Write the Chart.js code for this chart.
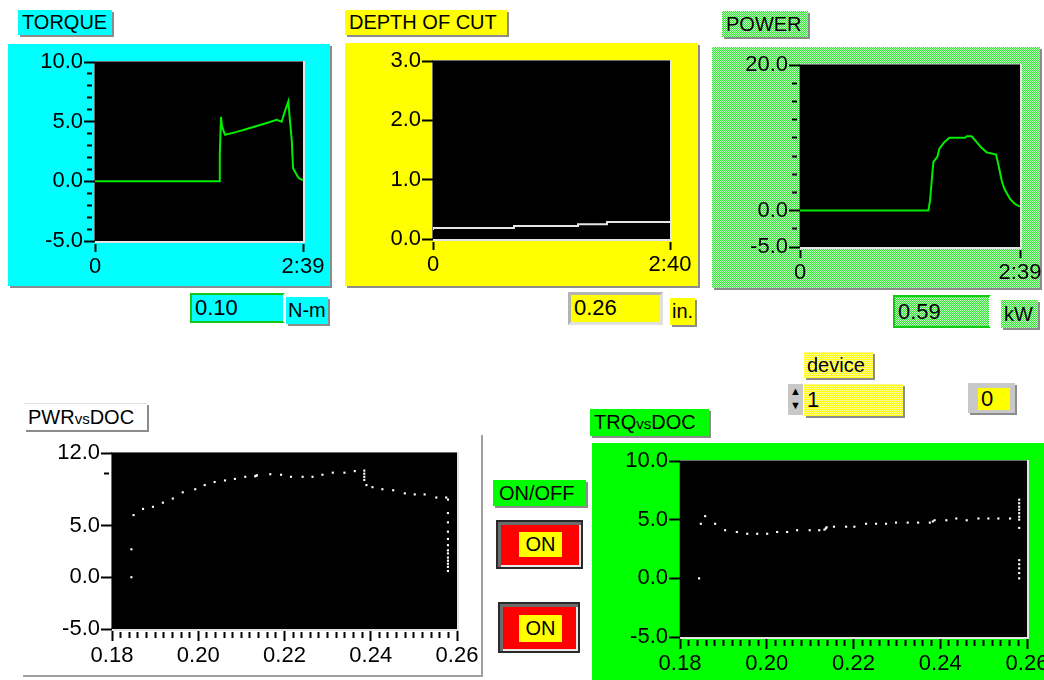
<!DOCTYPE html>
<html>
<head>
<meta charset="utf-8">
<script src="https://cdn.jsdelivr.net/npm/chart.js@4.4.1/dist/chart.umd.min.js"></script>
<style>
html, body { margin: 0; padding: 0; overflow: hidden; }
body { width: 1044px; height: 680px; position: relative; background: #fff; font-family: "Liberation Sans", Arial, sans-serif; color: #000; }
.abs { position: absolute; box-sizing: border-box; }
.lbl { position: absolute; box-sizing: border-box; font-size: 20px; padding-left: 4px; white-space: nowrap; box-shadow: 2px 2px 0 #8c8c8c; }
.num { font-size: 22px; }
.cyan { background: #00ffff; }
.yellow { background: #ffff00; }
.green { background: #00ff00; }
.gdot { background-color: #7ff07f; background-image: repeating-conic-gradient(#2ee82e 0 25%, #c6fac6 0 50%); background-size: 2px 2px; }
.ydot { background-color: #ffff60; background-image: repeating-conic-gradient(#ffff00 0 25%, #ffffa0 0 50%); background-size: 2px 2px; }
canvas { position: absolute; }
.btn { position: absolute; box-sizing: border-box; border: 2px solid #2a2a2a; background: #ff0000;
       box-shadow: inset 3px 3px 0 #6c6c6c, inset -2px -2px 0 #e8e8e8; }
.onbox { position: absolute; box-sizing: border-box; background: #ffff00; font-size: 20px; text-align: center; }
</style>
</head>
<body>

<!-- top row panels -->
<div class="abs cyan" style="left:8px;top:44px;width:322px;height:242px;box-shadow:2px 2px 0 #8c8c8c"></div>
<div class="abs yellow" style="left:345px;top:43px;width:353px;height:243px;box-shadow:2px 2px 0 #8c8c8c"></div>
<div class="abs gdot" style="left:712px;top:47px;width:328px;height:241px;box-shadow:2px 2px 0 #8c8c8c"></div>

<div class="lbl cyan" style="left:18px;top:10px;width:94px;height:25px;line-height:25px">TORQUE</div>
<div class="lbl yellow" style="left:345px;top:10px;width:162px;height:25px;line-height:25px">DEPTH OF CUT</div>
<div class="lbl gdot" style="left:722px;top:11px;width:86px;height:26px;line-height:26px">POWER</div>

<!-- readouts -->
<div class="abs cyan num" style="left:190px;top:293px;width:95px;height:30px;line-height:26px;padding-left:3px;border:2px solid #14c814;border-right-color:#fff">0.10</div>
<div class="lbl cyan" style="left:286px;top:297px;width:42px;height:27px;line-height:27px;padding-left:2px">N-m</div>
<div class="abs yellow num" style="left:568px;top:292px;width:95px;height:33px;line-height:25px;padding-left:3px;border:3px solid #b4b4b4;border-right-color:#e0e0e0;border-bottom-color:#e0e0e0">0.26</div>
<div class="lbl yellow" style="left:670px;top:298px;width:25px;height:27px;line-height:27px;padding-left:2px">in.</div>
<div class="abs gdot num" style="left:893px;top:295px;width:98px;height:33px;line-height:29px;padding-left:3px;border:2px solid #14c814;border-right-color:#fff">0.59</div>
<div class="lbl gdot" style="left:1001px;top:300px;width:37px;height:28px;line-height:28px;padding-left:3px">kW</div>

<!-- device control -->
<div class="lbl ydot" style="left:804px;top:352px;width:69px;height:26px;line-height:26px;padding-left:3px">device</div>
<div class="abs" style="left:788px;top:384px;width:15px;height:31px;background:#c8c8c8;font-size:11px;line-height:14px;text-align:center">&#9650;<br>&#9660;</div>
<div class="abs ydot num" style="left:804px;top:384px;width:99px;height:32px;line-height:32px;padding-left:3px;box-shadow:2px 2px 0 #8c8c8c">1</div>
<div class="abs" style="left:968px;top:383px;width:47px;height:30px;background:#c8c8c8;box-shadow:2px 2px 0 #8c8c8c"></div>
<div class="abs yellow num" style="left:978px;top:388px;width:32px;height:22px;line-height:22px;padding-left:3px">0</div>

<!-- lower panels -->
<div class="abs" style="left:23px;top:435px;width:460px;height:242px;border-right:2px solid #a0a0a0;border-bottom:2px solid #a0a0a0"></div>
<div class="lbl" style="left:24px;top:403px;width:123px;height:27px;line-height:27px;background:#fff;border-top:1px solid #e0e0e0">PWR<span style="font-size:15px">vs</span>DOC</div>
<div class="abs green" style="left:592px;top:443px;width:460px;height:240px"></div>
<div class="lbl green" style="left:590px;top:409px;width:119px;height:27px;line-height:27px">TRQ<span style="font-size:15px">vs</span>DOC</div>

<div class="lbl green" style="left:493px;top:480px;width:93px;height:26px;line-height:26px;padding-left:6px">ON/OFF</div>
<div class="btn" style="left:496px;top:520px;width:87px;height:49px"></div>
<div class="onbox" style="left:519px;top:532px;width:43px;height:25px;line-height:25px">ON</div>
<div class="btn" style="left:498px;top:602px;width:82px;height:51px"></div>
<div class="onbox" style="left:519px;top:615px;width:43px;height:27px;line-height:27px">ON</div>

<canvas id="torqueChart"></canvas>
<canvas id="docChart"></canvas>
<canvas id="powerChart"></canvas>
<canvas id="pwrDocChart"></canvas>
<canvas id="trqDocChart"></canvas>

<script>
// ---- data ----
// TORQUE (N-m) against elapsed time (s)
const torqueTime = [0, 95.0, 95.4, 96.3, 97.1, 99.4, 107, 114.7, 122.3, 130, 138.9, 142.7, 144.5, 147.8, 149, 150.4, 151.4, 152.9, 155.2, 156.7, 159];
const torqueVal  = [0, 0, 2.2, 5.4, 4.6, 3.9, 4.1, 4.35, 4.6, 4.85, 5.15, 5.0, 5.65, 6.7, 5.1, 3.45, 1.1, 0.8, 0.35, 0.2, 0.1];

// DEPTH OF CUT (in.) against elapsed time (s)
const docTime = [0, 54.7, 97.9, 117.5, 138.4, 160];
const docVal  = [0.15, 0.185, 0.22, 0.25, 0.285, 0.285];

// POWER (kW) against elapsed time (s)
const powerTime = [0, 92.8, 94, 95.2, 96.4, 99.3, 100.7, 104.3, 107.9, 119.3, 120.5, 124, 127.7, 130.8, 134.9, 141.7, 143.3, 145.8, 147.7, 151.8, 155.4, 159];
const powerVal  = [0, 0, 1.4, 4.1, 6.7, 7.4, 8.5, 9.4, 10.0, 10.0, 10.2, 10.2, 9.4, 8.7, 8.0, 7.7, 6.4, 4.1, 3.0, 1.6, 0.9, 0.55];

// PWRvsDOC scatter
const pwrDocX = [0.1845, 0.1845, 0.185, 0.1872, 0.1895, 0.1918, 0.1941, 0.1964, 0.1993, 0.2015, 0.2038, 0.2062, 0.2085, 0.2109,
  0.2132, 0.2134, 0.2136, 0.2167, 0.2192, 0.2215, 0.2242, 0.2265, 0.2288, 0.2312, 0.2339, 0.2363,
  0.2385, 0.2385, 0.2385, 0.2385, 0.239, 0.2404, 0.2427, 0.2452, 0.2479, 0.2502, 0.2525, 0.2552, 0.2575,
  0.2579, 0.2579, 0.2579, 0.2579, 0.2579, 0.2579, 0.2579, 0.2579, 0.2579, 0.2579, 0.2579, 0.2579, 0.2579];
const pwrDocY = [0, 2.7, 6.0, 6.6, 6.8, 7.2, 7.6, 8.2, 8.5, 8.9, 9.2, 9.35, 9.5, 9.7,
  9.75, 9.8, 9.85, 9.95, 9.9, 9.7, 9.7, 9.7, 9.9, 10.1, 10.1, 10.25,
  10.3, 10.0, 9.7, 9.4, 8.9, 8.7, 8.5, 8.4, 8.1, 8.0, 8.0, 7.7, 7.7,
  7.5, 6.2, 5.3, 4.4, 3.7, 3.1, 2.6, 2.3, 1.9, 1.6, 1.3, 1.0, 0.6];

// TRQvsDOC scatter
const trqDocX = [0.1844, 0.1848, 0.1858, 0.1881, 0.1904, 0.1931, 0.1955, 0.1978, 0.2001, 0.2024, 0.2047, 0.2070, 0.2099, 0.2121,
  0.2133, 0.2136, 0.2138, 0.2155, 0.2183, 0.2202, 0.2229, 0.2252, 0.2275, 0.2298, 0.2325, 0.2349, 0.2376,
  0.2383, 0.2387, 0.2414, 0.2437, 0.2461, 0.2488, 0.2511, 0.2534, 0.2561,
  0.2582, 0.2582, 0.2582, 0.2582, 0.2582, 0.2582, 0.2582, 0.2582, 0.2582, 0.2582, 0.2582, 0.2582, 0.2582];
const trqDocY = [0, 4.65, 5.3, 4.65, 4.1, 3.95, 3.8, 3.8, 3.8, 3.95, 3.95, 4.1, 4.1, 4.1,
  4.15, 4.25, 4.35, 4.4, 4.4, 4.4, 4.65, 4.65, 4.65, 4.75, 4.75, 4.75, 4.75,
  4.85, 4.95, 4.95, 5.1, 4.95, 5.1, 5.1, 5.1, 5.1,
  6.7, 6.4, 6.1, 5.85, 5.55, 5.25, 5.0, 4.3, 1.55, 1.2, 0.85, 0.45, 0.0];

// ---- tick labels ----
const torqueYTicks = [-5, -4, -3, -2, -1, 0, 1, 2, 3, 4, 5, 6, 7, 8, 9, 10];
const torqueYLabels = [-5, 0, 5, 10];
const docYTicks = [0, 1, 2, 3];
const powerYTicks = [-5, -2.5, 0, 2.5, 5, 7.5, 10, 12.5, 15, 17.5, 20];
const powerYLabels = [-5, 0, 20];
const pwrYTicks = [-5, 0, 5, 10, 12];
const pwrYLabels = [-5, 0, 5, 12];
const trqYTicks = [-5, 0, 5, 10];
const docAxisMin = 0.18, docAxisMax = 0.26, docMinorStep = 0.002, docMajorEvery = 10;

const FONT = { family: '"Liberation Sans", Arial, sans-serif', size: 22 };

function pairs(xs, ys) {
  return xs.map((x, i) => ({ x, y: ys[i] }));
}

function mmss(v) {
  if (v === 0) return '0';
  const m = Math.floor(v / 60), s = Math.round(v - m * 60);
  return m + ':' + String(s).padStart(2, '0');
}

// black plot area with a thin 3D frame, like the LabVIEW graph
const plotFrame = {
  id: 'plotFrame',
  beforeDraw(chart) {
    const { ctx, chartArea: a } = chart;
    const w = a.right - a.left, h = a.bottom - a.top;
    ctx.save();
    ctx.fillStyle = '#000';
    ctx.fillRect(a.left, a.top, w, h);
    ctx.fillStyle = '#6e6e6e';
    ctx.fillRect(a.left - 1, a.top - 1, w + 2, 1);
    ctx.fillRect(a.left - 1, a.top - 1, 1, h + 2);
    ctx.fillStyle = '#e4e4e4';
    ctx.fillRect(a.left, a.bottom, w + 2, 2);
    ctx.fillRect(a.right, a.top - 1, 2, h + 3);
    ctx.restore();
  }
};

function yAxis(min, max, tickVals, labelVals) {
  const isLab = v => labelVals.some(l => Math.abs(l - v) < 1e-9);
  return {
    type: 'linear', position: 'left', min, max,
    afterBuildTicks: s => { s.ticks = tickVals.map(value => ({ value })); },
    border: { display: false },
    grid: {
      drawOnChartArea: false, drawTicks: true, tickLength: 11, tickWidth: 2, tickColor: '#000',
      tickBorderDash: c => (c.tick && (isLab(c.tick.value) || labelVals === tickVals)) ? [] : [0, 3, 5, 100]
    },
    ticks: {
      color: '#000', font: FONT, padding: 1, autoSkip: false,
      callback: v => isLab(v) ? v.toFixed(1) : ''
    }
  };
}

function timeAxis(max) {
  return {
    type: 'linear', position: 'bottom', min: 0, max,
    afterBuildTicks: s => { s.ticks = [{ value: 0 }, { value: max }]; },
    border: { display: false },
    grid: { drawOnChartArea: false, drawTicks: true, tickLength: 11, tickWidth: 2, tickColor: '#000', tickBorderDash: [0, 3, 8, 100] },
    ticks: { color: '#000', font: FONT, padding: 2, maxRotation: 0, autoSkip: false, callback: v => mmss(v) }
  };
}

function docAxis() {
  const n = Math.round((docAxisMax - docAxisMin) / docMinorStep);
  return {
    type: 'linear', position: 'bottom', min: docAxisMin, max: docAxisMax,
    afterBuildTicks: s => {
      const t = [];
      for (let i = 0; i <= n; i++) t.push({ value: docAxisMin + i * docMinorStep, major: i % docMajorEvery === 0 });
      s.ticks = t;
    },
    border: { display: false },
    grid: {
      drawOnChartArea: false, drawTicks: true, tickLength: 12, tickWidth: 2, tickColor: '#000',
      tickBorderDash: c => (c.tick && c.tick.major) ? [0, 2, 10, 100] : [0, 3, 6, 100]
    },
    ticks: {
      color: '#000', font: FONT, padding: 2, maxRotation: 0, autoSkip: false,
      callback: function (v, i) { return i % docMajorEvery === 0 ? v.toFixed(2) : ''; }
    }
  };
}

// box = canvas [left, top, width, height]; plot = plot area [left, top, right, bottom] on the page
function panelChart(id, box, plot, datasets, xOpt, yOpt) {
  const el = document.getElementById(id);
  el.width = box[2]; el.height = box[3];
  el.style.left = box[0] + 'px'; el.style.top = box[1] + 'px';
  el.style.width = box[2] + 'px'; el.style.height = box[3] + 'px';
  const yW = plot[0] - box[0];
  const xH = box[1] + box[3] - plot[3];
  xOpt.afterFit = s => { s.height = xH; };
  yOpt.afterFit = s => { s.width = yW; };
  return new Chart(el, {
    type: 'scatter',
    data: { datasets },
    options: {
      responsive: false, animation: false, devicePixelRatio: 1,
      layout: { padding: { left: 0, top: plot[1] - box[1], right: box[0] + box[2] - plot[2], bottom: 0 } },
      plugins: { legend: { display: false }, tooltip: { enabled: false } },
      scales: { x: xOpt, y: yOpt }
    },
    plugins: [plotFrame]
  });
}

function lineSet(xs, ys, color, extra) {
  return Object.assign({
    data: pairs(xs, ys), showLine: true, borderColor: color, borderWidth: 2,
    pointRadius: 0, tension: 0
  }, extra || {});
}

function dotSet(xs, ys) {
  return {
    data: pairs(xs, ys), showLine: false, pointStyle: 'rect',
    pointRadius: 1.5, pointBorderWidth: 0, pointBackgroundColor: '#fff', backgroundColor: '#fff'
  };
}

panelChart('torqueChart', [8, 44, 342, 242], [95, 62, 303, 241],
  [lineSet(torqueTime, torqueVal, '#00ee00')],
  timeAxis(159), yAxis(-5, 10, torqueYTicks, torqueYLabels));

panelChart('docChart', [345, 43, 373, 243], [433, 61, 670, 239],
  [lineSet(docTime, docVal, '#e6e6e6', { stepped: 'after' })],
  timeAxis(160), yAxis(0, 3, docYTicks, docYTicks));

panelChart('powerChart', [712, 47, 350, 241], [800, 65, 1020, 247],
  [lineSet(powerTime, powerVal, '#00ee00')],
  timeAxis(159), yAxis(-5, 20, powerYTicks, powerYLabels));

panelChart('pwrDocChart', [23, 435, 480, 245], [112, 453, 457, 629],
  [dotSet(pwrDocX, pwrDocY)],
  docAxis(), yAxis(-5, 12, pwrYTicks, pwrYLabels));

panelChart('trqDocChart', [592, 443, 472, 237], [680, 461, 1027, 637],
  [dotSet(trqDocX, trqDocY)],
  docAxis(), yAxis(-5, 10, trqYTicks, trqYTicks));
</script>
</body>
</html>
